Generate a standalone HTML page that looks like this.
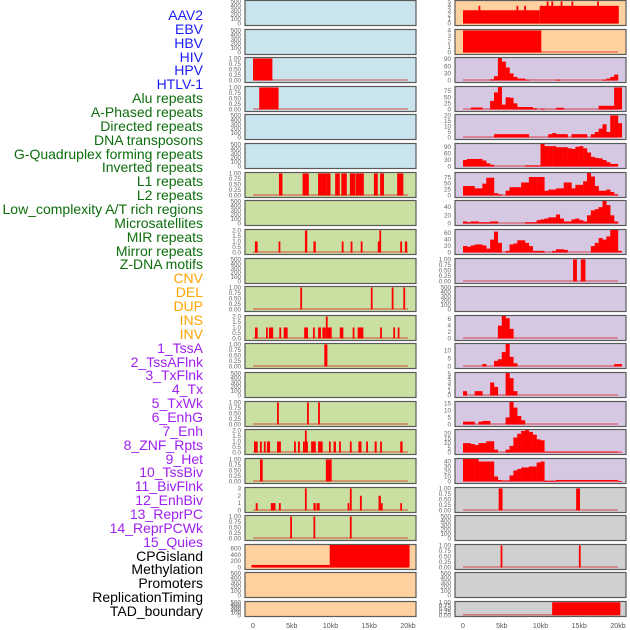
<!DOCTYPE html>
<html><head><meta charset="utf-8">
<style>
html,body{margin:0;padding:0;background:#fff;width:630px;height:630px;overflow:hidden}
#labels{position:absolute;left:0;top:0;width:203px;font-family:"Liberation Sans",sans-serif;font-size:14px;text-align:right}
#labels div{position:absolute;right:0;white-space:nowrap;line-height:14px}
svg{position:absolute;left:0;top:0}
</style></head>
<body>
<div id="labels"></div>
<svg id="chart" width="630" height="630"></svg>
<script>
// ---- label data ----
const labelNames = ["AAV2","EBV","HBV","HIV","HPV","HTLV-1","Alu repeats","A-Phased repeats","Directed repeats","DNA transposons","G-Quadruplex forming repeats","Inverted repeats","L1 repeats","L2 repeats","Low_complexity A/T rich regions","Microsatellites","MIR repeats","Mirror repeats","Z-DNA motifs","CNV","DEL","DUP","INS","INV","1_TssA","2_TssAFlnk","3_TxFlnk","4_Tx","5_TxWk","6_EnhG","7_Enh","8_ZNF_Rpts","9_Het","10_TssBiv","11_BivFlnk","12_EnhBiv","13_ReprPC","14_ReprPCWk","15_Quies","CPGisland","Methylation","Promoters","ReplicationTiming","TAD_boundary"];
const labelGroups = [6,13,5,15,5];
const groupColors = ["#1c1cf5","#0d6e0d","#ffa500","#a020f0","#000000"];

// ---- tick label sets ----
const ticksEmpty = [0,100,200,300,400,500];
const ticksUnit = [0,0.25,0.5,0.75,1];
const ticksTwo = [0,0.5,1,1.5,2];

// ---- bar-type data: [startKb, endKb, value] ----
const hivL = [[0,2.5,1]];
const hpvL = [[0.8,3.3,1]];
const r6L = [[3.35,3.8,1],[6.4,7.2,1],[8.4,9.5,1],[9.5,10,1],[10.6,11.2,1],[11.4,12.1,1],[12.5,13.2,1],[13.25,14.3,1],[15.6,16.1,1],[16.4,16.9,1],[18.6,19.4,1]];
const r8L = [[0.25,0.6,1],[3.3,3.5,1],[6.7,7.0,2],[7.8,8.1,1],[11.45,11.65,1],[12.6,12.8,1],[13.9,14.1,1],[16.1,16.3,1],[16.3,16.5,2],[19.0,19.2,1],[19.6,19.9,1]];
const r10L = [[6.1,6.3,1],[15.2,15.4,1],[17.9,18.1,1],[19.4,19.6,1]];
const r11L = [[0.26,0.6,1],[1.68,1.9,1],[2.06,2.6,1],[3.4,3.6,1],[3.96,4.47,1],[6.6,7.1,1],[7.74,7.96,1],[8.4,8.77,1],[8.95,9.4,1],[9.4,9.6,2],[9.6,10.15,1],[11.2,11.66,1],[12.86,13.07,1],[13.5,14.24,1],[16.4,16.6,1],[18.1,18.3,1],[18.67,18.88,1]];
const r12L = [[9.2,9.6,1]];
const r14L = [[3.1,3.3,1],[6.97,7.2,1],[8.4,8.6,1]];
const r15L = [[0.13,0.6,1],[0.9,1.1,1],[1.4,1.64,1],[1.8,2.2,1],[3.1,3.6,1],[5.3,5.5,1],[5.8,6.05,1],[6.45,6.7,1],[6.7,6.85,2],[6.85,7.05,1],[7.5,8.1,1],[8.4,8.99,1],[9.8,10.0,1],[10.4,10.7,1],[11.1,11.3,1],[12.5,12.7,1],[13.6,14.0,1],[14.6,14.8,1],[15.7,15.96,1],[16.4,16.6,1],[19.0,19.3,1]];
const r16L = [[0.9,1.25,1],[9.4,10.15,1]];
const r17L = [[0.35,0.6,1],[2.3,2.9,1],[3.35,3.57,1],[6.7,6.9,3],[7.8,8.1,1],[8.2,8.6,1],[12.2,12.4,1],[12.5,12.7,3],[13.8,14.0,2],[16.2,16.5,2],[16.5,16.6,1],[19.0,19.2,1]];
const r18L = [[4.8,5.0,1],[7.8,8.0,1],[12.5,12.7,1]];
const cpgL = [[-0.2,9.9,80],[9.9,20.2,711]];

const aav2R = [[0,9.9,3],[9.9,20.1,4],[2.0,2.1,4],[6.9,7.0,4],[7.9,8.0,4],[10.8,10.9,5],[11.4,11.5,5],[12.6,12.7,5],[14.0,14.1,5],[17.3,17.4,5]];
const ebvR = [[0,10.1,4]];
const mirrorR = [[14.2,14.7,1],[15.2,15.8,1]];
const r17R = [[4.6,5.1,1],[14.6,15.1,1]];
const r19R = [[4.85,5.05,1],[14.95,15.15,1]];
const tadR = [[11.5,20.3,1]];

// ---- histogram data: 0.5kb bins starting at 0kb ----
const hivR = [0,0,0,0,0,0,0,5,18,95,80,55,30,15,8,8,3,0,0,0,0,0,0,0,3,0,0,0,0,0,0,0,0,0,0,0,3,8,15,25,0];
const aluR = [0,0,8,8,8,0,0,35,70,92,20,50,48,25,10,10,10,10,5,0,3,0,0,0,7,7,0,0,0,0,0,0,0,0,0,15,15,15,15,90,90];
const dirR = [0,0,0,0,0,0,0,0,3,3,3,3,3,3,3,3,3,0,0,0,0,0,3,4,3,3,3,0,3,3,3,3,0,3,5,8,12,5,20,20,13];
const gqR = [30,35,35,35,35,28,15,8,0,0,0,0,0,0,0,0,5,5,5,5,105,95,95,95,90,90,90,85,82,92,95,85,65,45,40,38,30,20,12,12,0];
const l1R = [40,40,40,30,30,50,75,75,10,5,0,20,35,35,35,55,55,78,78,78,78,20,25,25,30,30,55,55,30,45,45,60,95,80,40,20,20,25,15,5,0];
const lowR = [5,3,5,5,3,3,3,5,5,0,0,0,0,0,0,0,3,3,3,8,10,12,15,15,22,12,5,5,10,12,8,5,20,32,35,40,55,45,20,5,0];
const mirR = [20,18,22,25,25,22,12,40,65,30,0,5,25,28,38,38,30,20,5,5,5,0,0,5,10,10,8,0,0,0,0,0,0,20,30,45,40,50,70,70,5];
const insR = [0,0,0,0,0,0,0,0,0,4,7,6.3,3,0,0,0,0,0,0,0,0,0,0,0,0,0,0,0,0,0,0,0,0,0,0,0,0,0,0,0,0];
const r12R = [0,0,0,0,0,1.5,0,0,3.5,4.5,9,14,6,2,0,0,0,0,0,0,0,0,0,0,0,0,0,0,0,0,0,0,0,0,0,0,0,0,0,1.5,1.5];
const r13R = [1,0,0,1,1,0,0,3,2,0,0,5.2,4,1,0,0,0,0,0,0,0,0,0,0,0,0,0,0,0,0,0,0,0,0,0,0,0,0,0,0,0];
const r14R = [2,2,2,0,2,2.5,2.5,0,0,0,0,5,16,12,6,3,0,0,0,0,0,0,0,0,0,0,0,0,0,0,0,0,0,0,0,0,0,0,0,0,0];
const r15R = [10,10,9,8,10,10,12,12,3,0,0,3,7,16,20,23,24,22,19,14,13,0.8,0.8,0.8,0.8,0.8,0.8,0.8,0.8,0.8,0.8,0.8,0.8,0.8,0.8,0.8,0.8,0.8,0.8,0.8,0.8];
const r16R = [45,45,45,45,40,40,40,40,10,3,2,2,12,22,25,28,28,30,30,38,40,1,1,1,3,3,3,3,3,3,3,3,3,3,3,3,3,3,3,3,1];

// ---- panel layout data ----
const BG = {blue:"#c9e4ec",green:"#c9e0a2",orange:"#ffd19e",purple:"#d6c8e3",grey:"#d0d0d0"};
const leftPanels = [
 {bg:"blue",ticks:ticksEmpty},{bg:"blue",ticks:ticksEmpty},
 {bg:"blue",ticks:ticksUnit,bars:hivL,fmt:2},{bg:"blue",ticks:ticksUnit,bars:hpvL,fmt:2},
 {bg:"blue",ticks:ticksEmpty},{bg:"blue",ticks:ticksEmpty},
 {bg:"green",ticks:ticksUnit,bars:r6L,fmt:2},{bg:"green",ticks:ticksEmpty},
 {bg:"green",ticks:ticksTwo,bars:r8L,fmt:1},{bg:"green",ticks:ticksEmpty},
 {bg:"green",ticks:ticksUnit,bars:r10L,fmt:2},{bg:"green",ticks:ticksTwo,bars:r11L,fmt:1},
 {bg:"green",ticks:ticksUnit,bars:r12L,fmt:2},{bg:"green",ticks:ticksEmpty},
 {bg:"green",ticks:ticksUnit,bars:r14L,fmt:2},{bg:"green",ticks:ticksTwo,bars:r15L,fmt:1},
 {bg:"green",ticks:ticksUnit,bars:r16L,fmt:2},{bg:"green",ticks:[0,1,2,3],bars:r17L},
 {bg:"green",ticks:ticksUnit,bars:r18L,fmt:2},{bg:"orange",ticks:[0,200,400,600],bars:cpgL},
 {bg:"orange",ticks:ticksEmpty},{bg:"orange",ticks:ticksEmpty}
];
const rightPanels = [
 {bg:"orange",ticks:[0,1,2,3,4,5],bars:aav2R},{bg:"orange",ticks:[0,1,2,3,4],bars:ebvR},
 {bg:"purple",ticks:[0,30,60,90],hist:hivR},{bg:"purple",ticks:[0,25,50,75],hist:aluR},
 {bg:"purple",ticks:[0,5,10,15,20],hist:dirR},{bg:"purple",ticks:[0,30,60,90],hist:gqR},
 {bg:"purple",ticks:[0,25,50,75],hist:l1R},{bg:"purple",ticks:[0,20,40],hist:lowR},
 {bg:"purple",ticks:[0,20,40,60],hist:mirR},{bg:"purple",ticks:ticksUnit,bars:mirrorR,fmt:2},
 {bg:"purple",ticks:ticksEmpty},{bg:"purple",ticks:[0,2,4,6],hist:insR},
 {bg:"purple",ticks:[0,5,10],hist:r12R},{bg:"purple",ticks:[0,1,2,3,4,5],hist:r13R},
 {bg:"purple",ticks:[0,5,10,15],hist:r14R},{bg:"purple",ticks:[0,5,10,15,20],hist:r15R},
 {bg:"purple",ticks:[0,10,20,30,40],hist:r16R},{bg:"grey",ticks:ticksUnit,bars:r17R,fmt:2},
 {bg:"grey",ticks:ticksEmpty},{bg:"grey",ticks:ticksUnit,bars:r19R,fmt:2},
 {bg:"grey",ticks:ticksEmpty},{bg:"grey",ticks:ticksUnit,bars:tadR,fmt:2}
];
const xTickKb = [0,5,10,15,20];
const xTickText = ["0","5kb","10kb","15kb","20kb"];

// ---- labels ----
const labDiv = document.getElementById('labels');
let gi = 0, gc = 0;
labelNames.forEach((t,i)=>{
  const d = document.createElement('div');
  
  
  d.textContent = t;
  d.style.top = (8 + i*13.86) + 'px';
  d.style.color = groupColors[gi];
  labDiv.appendChild(d);
  gc++; if (gc >= labelGroups[gi]) { gi++; gc = 0; }
});

// ---- chart ----
const NS = "http://www.w3.org/2000/svg";
const svg = document.getElementById('chart');
function mk(tag, attrs, parent){
  const e = document.createElementNS(NS, tag);
  for (const k in attrs) e.setAttribute(k, attrs[k]);
  (parent||svg).appendChild(e);
  return e;
}
const PW = 171, KB = 7.75;
function xScale(x0, kb){ return x0 + 8 + kb*KB; }

function drawPanel(p, col, row){
  const x0 = col === 0 ? 245 : 455;
  const top = Math.round(row*28.62);
  const h = row === 21 ? 16 : 26;
  const g = mk('g', {});
  
  
  mk('rect', {x:x0, y:top+0.5, width:PW, height:h-1, fill:BG[p.bg], stroke:'#5a5a5a', 'stroke-width':1.2}, g);
  const tmax = p.ticks[p.ticks.length-1];
  let dmax = tmax*1.02;
  if (p.hist) dmax = Math.max(dmax, Math.max(...p.hist));
  if (p.bars) dmax = Math.max(dmax, Math.max(...p.bars.map(b=>b[2])));
  const lo = -0.09*dmax;
  const yScale = v => top + h - 0.5 - (v - lo)/(dmax - lo)*(h-1.5);
  // ticks
  p.ticks.forEach(t=>{
    const tx = mk('text', {x:x0-4, y:yScale(t)+2, 'font-size':6.3, fill:'#666', 'text-anchor':'end', 'font-family':'Liberation Sans, sans-serif'}, g);
    
    
    tx.textContent = p.fmt ? t.toFixed(p.fmt) : String(t);
  });
  const hasData = p.hist || p.bars;
  if (hasData) {
    const bl = mk('line', {x1:xScale(x0,0), x2:xScale(x0,20), y1:yScale(0)-0.5, y2:yScale(0)-0.5, stroke:'rgba(215,40,40,0.55)', 'stroke-width':1.5}, g);
    
    
  }
  const clipTop = top + 1;
  if (p.hist) {
    p.hist.forEach((v,i)=>{
      if (v <= 0) return;
      const xa = xScale(x0, i*0.5), xb = xScale(x0, i*0.5+0.5);
      const ya = Math.max(yScale(v), clipTop), yb = yScale(0);
      const r = mk('rect', {x:xa, y:ya, width:xb-xa+0.2, height:Math.max(yb-ya,0.8), fill:'#ff0000'}, g);
      
      
    });
  }
  if (p.bars) {
    p.bars.forEach(b=>{
      const xa = xScale(x0, b[0]), xb = xScale(x0, b[1]);
      const ya = Math.max(yScale(b[2]), clipTop), yb = yScale(0);
      const r = mk('rect', {x:xa, y:ya, width:Math.max(xb-xa,1.8), height:yb-ya, fill:'#ff0000'}, g);
      
      
    });
  }
}
leftPanels.forEach((p,i)=>drawPanel(p,0,i));
rightPanels.forEach((p,i)=>drawPanel(p,1,i));

[245,455].forEach(x0=>{
  xTickKb.forEach((k,i)=>{
    const t = mk('text', {x:xScale(x0,k), y:628, 'font-size':7, fill:'#555', 'text-anchor':'middle', 'font-family':'Liberation Sans, sans-serif'});
    
    
    t.textContent = xTickText[i];
  });
});
</script>
</body></html>
